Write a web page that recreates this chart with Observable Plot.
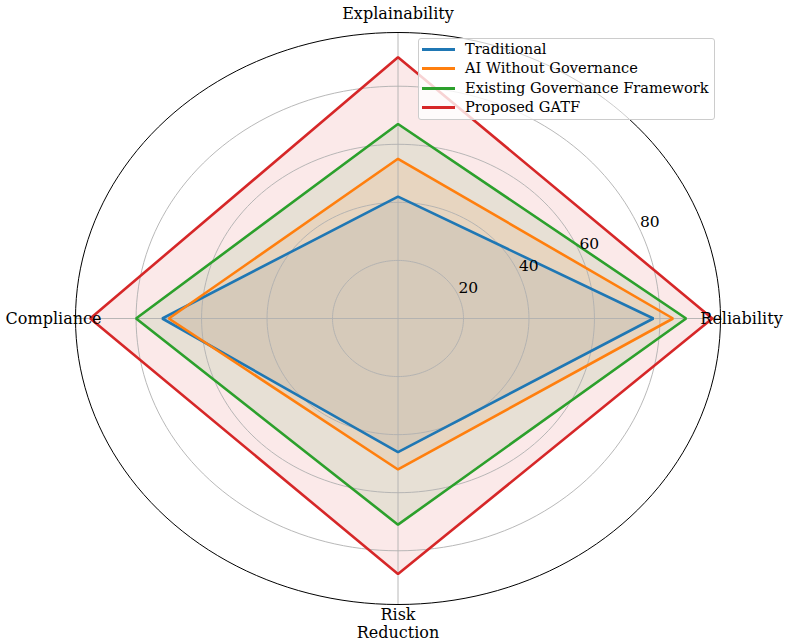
<!DOCTYPE html>
<html><head><meta charset="utf-8">
<script src="https://cdn.jsdelivr.net/npm/d3@7"></script>
<script src="https://cdn.jsdelivr.net/npm/@observablehq/plot@0.6"></script>
<style>
body{margin:0;background:#fff;}
#wrap{position:relative;width:790px;height:643px;overflow:hidden;}
#legend{position:absolute;left:418px;top:38px;width:297px;height:82px;box-sizing:border-box;border:1px solid #cccccc;border-radius:3px;background:rgba(255,255,255,0.8);font-family:"DejaVu Serif";font-size:14.6px;color:#000;}
.row{position:absolute;left:0;height:20px;width:100%;}
.sw{position:absolute;left:3px;top:9px;width:33px;height:3px;}
.lb{position:absolute;left:46px;top:0;line-height:20px;white-space:nowrap;}
</style></head><body>
<div id="wrap"><div id="chart"></div><div id="legend"></div></div>
<script>
// Axes (categories) in polar order: 0°, 90°, 180°, 270°
const categories = ["Reliability", "Explainability", "Compliance", "Risk Reduction"];
const axisLabels = ["Reliability", "Explainability", "Compliance", "Risk\nReduction"];
const angles = [0, 90, 180, 270];

const seriesNames = ["Traditional", "AI Without Governance", "Existing Governance Framework", "Proposed GATF"];
const seriesColors = ["#1f77b4", "#ff7f0e", "#2ca02c", "#d62728"];

// values in category order: Reliability, Explainability, Compliance, Risk Reduction
const traditional = [78, 42, 72, 46];
const aiWithoutGovernance = [84, 55, 70, 52];
const existingFramework = [88, 67, 80, 71];
const proposedGATF = [96, 90, 94, 88];
const seriesValues = [traditional, aiWithoutGovernance, existingFramework, proposedGATF];

const radialTicks = [20, 40, 60, 80];
const rMax = 98.5;
const tickAngle = 22.5;

const rad = d => d * Math.PI / 180;

const rows = [];
seriesNames.forEach((s, i) => {
  categories.forEach((c, j) => {
    rows.push({series: s, category: c, angle: angles[j], value: seriesValues[i][j]});
  });
});
const px = d => d.value * Math.cos(rad(d.angle));
const py = d => d.value * Math.sin(rad(d.angle));

// grid circle outlines
const circleAngles = d3.range(0, 360, 2);
const gridPts = [];
radialTicks.forEach(r => circleAngles.forEach(a => gridPts.push({r, a})));
const outerPts = circleAngles.map(a => ({r: rMax, a}));
const cx = d => d.r * Math.cos(rad(d.a));
const cy = d => d.r * Math.sin(rad(d.a));

const font = "DejaVu Serif";
const marks = [];

// fills (below grid, like matplotlib patches)
seriesNames.forEach((s, i) => {
  marks.push(Plot.line(rows.filter(d => d.series === s), {
    x: px, y: py, curve: "linear-closed", stroke: "none",
    fill: seriesColors[i], fillOpacity: 0.1
  }));
});

// grid circles
marks.push(Plot.line(gridPts, {x: cx, y: cy, z: "r", curve: "linear-closed", stroke: "#b0b0b0", strokeWidth: 0.9}));
// spokes
marks.push(Plot.link(angles, {
  x1: () => 0, y1: () => 0,
  x2: a => rMax * Math.cos(rad(a)), y2: a => rMax * Math.sin(rad(a)),
  stroke: "#b0b0b0", strokeWidth: 0.9
}));

// series lines
seriesNames.forEach((s, i) => {
  marks.push(Plot.line(rows.filter(d => d.series === s), {
    x: px, y: py, curve: "linear-closed", stroke: seriesColors[i],
    strokeWidth: 2.6, strokeLinejoin: "miter"
  }));
});

// outer spine
marks.push(Plot.line(outerPts, {x: cx, y: cy, curve: "linear-closed", stroke: "#000", strokeWidth: 1}));

// radial tick labels
marks.push(Plot.text(radialTicks, {
  x: r => r * Math.cos(rad(tickAngle)), y: r => r * Math.sin(rad(tickAngle)),
  text: d => String(d), textAnchor: "start", lineAnchor: "bottom",
  dx: 0, dy: -3, fontFamily: font, fontSize: 15.5, fill: "#000"
}));

// category labels
const labelOpts = [
  {dx: 21, dy: 0, lineAnchor: "middle"},
  {dx: 0, dy: -14, lineAnchor: "bottom"},
  {dx: -22, dy: 0, lineAnchor: "middle"},
  {dx: 0, dy: 3, lineAnchor: "top"}
];
axisLabels.forEach((lab, j) => {
  marks.push(Plot.text([lab], {
    x: () => rMax * Math.cos(rad(angles[j])), y: () => rMax * Math.sin(rad(angles[j])),
    text: d => d, textAnchor: "middle", fontFamily: font, fontSize: 16, fill: "#000",
    lineHeight: 1.1, ...labelOpts[j]
  }));
});

const chart = Plot.plot({
  width: 790, height: 643,
  marginLeft: 75, marginRight: 70, marginTop: 32, marginBottom: 39,
  x: {domain: [-rMax, rMax], axis: null},
  y: {domain: [-rMax, rMax], axis: null},
  style: {background: "#fff", overflow: "visible"},
  marks
});
document.getElementById("chart").appendChild(chart);

// legend
const leg = document.getElementById("legend");
const rowTops = [0, 19, 39, 58];
seriesNames.forEach((s, i) => {
  const row = document.createElement("div");
  row.className = "row";
  row.style.top = rowTops[i] + "px";
  row.innerHTML = `<div class="sw" style="background:${seriesColors[i]}"></div><div class="lb">${s}</div>`;
  leg.appendChild(row);
});
</script>
</body></html>
